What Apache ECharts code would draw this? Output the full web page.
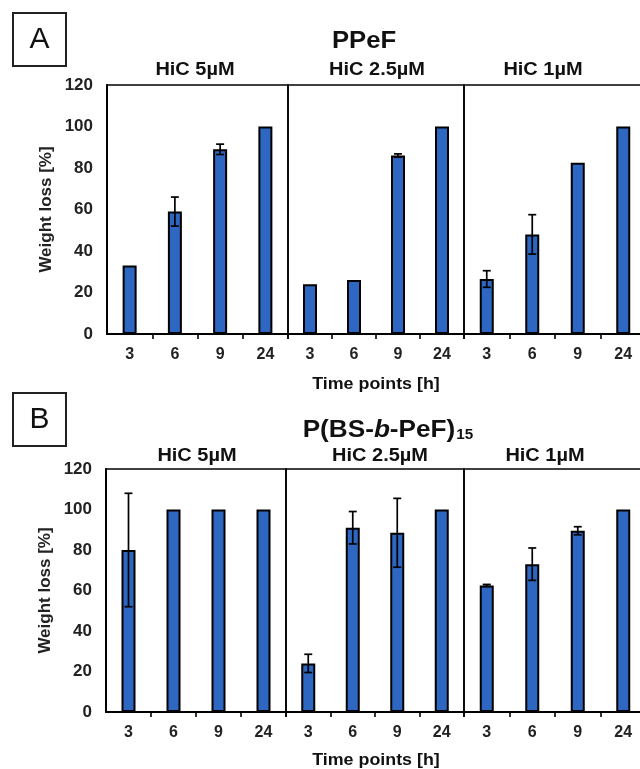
<!DOCTYPE html>
<html>
<head>
<meta charset="utf-8">
<script src="https://cdn.jsdelivr.net/npm/echarts@6/dist/echarts.min.js"></script>
<style>
  html, body { margin: 0; padding: 0; background: #fff; }
  #chart { width: 640px; height: 769px; }
</style>
</head>
<body>
<div id="chart"></div>
<script>
const timePoints = ['3', '6', '9', '24'];
const concentrations = ['HiC 5µM', 'HiC 2.5µM', 'HiC 1µM'];
const yMin = 0, yMax = 120, yStep = 20;

// A: PPeF
const ppefHic5 = [33, 59, 89, 100];
const ppefHic5Err = [0, 7, 2.5, 0];
const ppefHic25 = [24, 26, 86, 100];
const ppefHic25Err = [0, 0, 0.8, 0];
const ppefHic1 = [26.5, 48, 82.5, 100];
const ppefHic1Err = [4, 9.5, 0, 0];

// B: P(BS-b-PeF)15
const pbsHic5 = [80, 100, 100, 100];
const pbsHic5Err = [28, 0, 0, 0];
const pbsHic25 = [24, 91, 88.5, 100];
const pbsHic25Err = [4.5, 8, 17, 0];
const pbsHic1 = [62.5, 73, 89.5, 100];
const pbsHic1Err = [0.5, 8, 2, 0];

const panels = [
  { vals: ppefHic5, err: ppefHic5Err }, { vals: ppefHic25, err: ppefHic25Err }, { vals: ppefHic1, err: ppefHic1Err },
  { vals: pbsHic5, err: pbsHic5Err }, { vals: pbsHic25, err: pbsHic25Err }, { vals: pbsHic1, err: pbsHic1Err }
];

const FONT = '"Liberation Sans", Arial, sans-serif';
const BLUE = '#2d67c2';

// grid layout: row A and row B
const gridBoxes = [
  { left: 107, top: 85, width: 181, height: 249 },
  { left: 288, top: 85, width: 176, height: 249 },
  { left: 464, top: 85, width: 182, height: 249 },
  { left: 106, top: 469, width: 180, height: 243 },
  { left: 286, top: 469, width: 178, height: 243 },
  { left: 464, top: 469, width: 182, height: 243 }
];

function errorBarItem(params, api) {
  const x = api.value(0), y = api.value(1), e = api.value(2);
  if (!e) return null;
  const hi = api.coord([x, y + e]);
  const lo = api.coord([x, y - e]);
  const hw = 4;
  const style = { stroke: '#000', lineWidth: 1.7 };
  return {
    type: 'group',
    children: [
      { type: 'line', shape: { x1: hi[0], y1: hi[1], x2: lo[0], y2: lo[1] }, style },
      { type: 'line', shape: { x1: hi[0] - hw, y1: hi[1], x2: hi[0] + hw, y2: hi[1] }, style },
      { type: 'line', shape: { x1: lo[0] - hw, y1: lo[1], x2: lo[0] + hw, y2: lo[1] }, style }
    ]
  };
}

const grid = [], xAxis = [], yAxis = [], series = [];
gridBoxes.forEach((g, i) => {
  const first = i % 3 === 0;
  grid.push(Object.assign({
    show: true, borderColor: '#000', borderWidth: 1.6,
    containLabel: false, outerBoundsMode: 'none'
  }, g));
  xAxis.push({
    type: 'category', gridIndex: i, data: timePoints,
    axisLine: { lineStyle: { color: '#000', width: 2 } },
    axisTick: {
      show: true, length: 5, inside: false,
      interval: first ? (idx) => idx !== 0 : 0,
      lineStyle: { color: '#000', width: 1.6 }
    },
    axisLabel: { color: '#222', fontFamily: FONT, fontWeight: 'bold', fontSize: 16, margin: 13 }
  });
  yAxis.push({
    type: 'value', gridIndex: i, min: yMin, max: yMax, interval: yStep,
    splitLine: { show: false },
    axisTick: { show: false },
    axisLine: { show: first, lineStyle: { color: '#000', width: 2 } },
    axisLabel: { show: first, color: '#222', fontFamily: FONT, fontWeight: 'bold', fontSize: 17, margin: 14 },
    name: first ? 'Weight loss [%]' : '',
    nameLocation: 'middle', nameGap: 52,
    nameTextStyle: { color: '#222', fontFamily: FONT, fontWeight: 'bold', fontSize: 17 }
  });
  const p = panels[i];
  series.push({
    type: 'bar', xAxisIndex: i, yAxisIndex: i, data: p.vals, barWidth: 14,
    itemStyle: { color: BLUE, borderColor: '#000', borderWidth: 2 },
    animation: false
  });
  series.push({
    type: 'custom', xAxisIndex: i, yAxisIndex: i, z: 5,
    data: p.vals.map((v, k) => [k, v, p.err[k]]),
    renderItem: errorBarItem, animation: false
  });
});

const txt = (x, y, text, size, sx, extra) => ({
  type: 'text', x, y, z: 10, scaleX: sx || 1,
  style: Object.assign({
    text, fill: '#111', font: 'bold ' + size + 'px ' + FONT,
    textAlign: 'center', textVerticalAlign: 'middle'
  }, extra || {})
});

const subA = [195, 377, 543], subB = [197, 380, 545];
const graphic = [
  { type: 'rect', shape: { x: 13, y: 13, width: 53, height: 53 }, style: { fill: '#fff', stroke: '#222', lineWidth: 2 } },
  txt(39.5, 40, 'A', 30, 1, { font: '30px ' + FONT }),
  { type: 'rect', shape: { x: 13, y: 393, width: 53, height: 53 }, style: { fill: '#fff', stroke: '#222', lineWidth: 2 } },
  txt(39.5, 420, 'B', 30, 1, { font: '30px ' + FONT }),
  txt(364, 41, 'PPeF', 24, 1.07),
  {
    type: 'text', x: 388, y: 430, z: 10, scaleX: 1.09,
    style: {
      text: '{a|P(BS-}{i|b}{a|-PeF)}{s|15}',
      textAlign: 'center', textVerticalAlign: 'middle',
      rich: {
        a: { fontFamily: FONT, fontWeight: 'bold', fontSize: 24, fill: '#111', lineHeight: 28 },
        i: { fontFamily: FONT, fontWeight: 'bold', fontStyle: 'italic', fontSize: 24, fill: '#111', lineHeight: 28 },
        s: { fontFamily: FONT, fontWeight: 'bold', fontSize: 14, fill: '#111', lineHeight: 28, padding: [10, 0, 0, 1] }
      }
    }
  },
  txt(376, 384, 'Time points [h]', 17, 1.05),
  txt(376, 760, 'Time points [h]', 17, 1.05)
];
concentrations.forEach((c, k) => {
  graphic.push(txt(subA[k], 70, c, 18, 1.11));
  graphic.push(txt(subB[k], 456, c, 18, 1.11));
});

const chart = echarts.init(document.getElementById('chart'));
chart.setOption({
  backgroundColor: '#fff',
  animation: false,
  grid, xAxis, yAxis, series, graphic
});
</script>
</body>
</html>
